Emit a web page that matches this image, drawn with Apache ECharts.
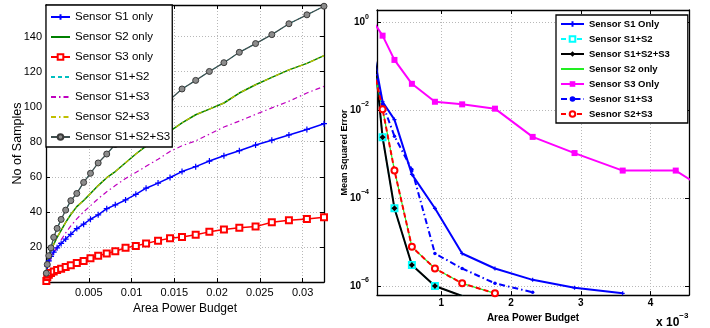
<!DOCTYPE html>
<html>
<head>
<meta charset="utf-8">
<script src="https://cdn.jsdelivr.net/npm/echarts@6/dist/echarts.min.js"></script>
<style>
  html, body { margin: 0; padding: 0; background: #fff; }
  #chart { width: 710px; height: 328px; }
</style>
</head>
<body>
<div id="chart"></div>
<script>
// ---- left panel: number of samples vs area power budget ----
const budgetL = [0.00004, 0.00015, 0.00033, 0.00058, 0.0009, 0.0013, 0.00177, 0.0023, 0.0029, 0.0036,
                 0.0044, 0.0052, 0.0061, 0.0071, 0.0081, 0.0093, 0.0105, 0.0117, 0.0131, 0.0145,
                 0.0159, 0.0175, 0.0191, 0.0208, 0.0226, 0.0245, 0.0264, 0.0284, 0.0305, 0.0325];
const samplesS1 = [4.5, 9, 12, 14.6, 17, 19.5, 22, 24.5, 27.2, 30.5, 33, 35.8, 38.3, 41.8, 44,
                   46.8, 50, 53.5, 56.4, 59.6, 63, 65.8, 69, 72, 74.9, 78.1, 80.9, 83.9, 87, 90.3];
const samplesS2 = [6, 11, 14.5, 18, 21.5, 25.5, 29.5, 34, 38.5, 43, 46.5, 50.5, 55, 59.5, 63,
                   68, 73, 77.5, 82.5, 86, 90.8, 95.4, 98.6, 102.1, 107.8, 112.5, 116.7, 121, 124.7, 129.1];
const samplesS3 = [0.5, 2.9, 4.2, 5.2, 6.0, 6.8, 7.6, 8.5, 9.6, 10.8, 12.0, 13.5, 15.0, 16.3, 17.5,
                   19.5, 20.6, 22.0, 23.6, 25.0, 25.7, 26.9, 28.6, 29.9, 30.9, 31.6, 34.1, 35.2, 36.0, 37.0];
const samplesS1S3 = [4.5, 7.5, 10.5, 13.5, 16.5, 20, 24, 28, 32, 36, 40, 43.5, 47.5, 51.5, 55,
                     59, 62.5, 66, 70, 74.5, 77.7, 80.5, 84.3, 88.4, 91.8, 95.6, 99.3, 103.1, 107.8, 111.6];
const samplesS1S2S3 = [5, 10, 15, 19.5, 25.5, 30.6, 35.7, 41, 46.4, 50.5, 56.8, 62.0, 67.9, 73.0, 78.5,
                       84, 89, 94, 99, 104.1, 110.1, 115.0, 120.1, 125.1, 131.0, 136.0, 141.1, 147.3, 152.4, 157.3];
// these two lie exactly under other curves in the picture
const samplesS1S2 = samplesS1S2S3.slice();
const samplesS2S3 = samplesS2.slice();

// ---- right panel: mean squared error vs area power budget (x 10^-3) ----
const budgetR = [0.04, 0.16, 0.33, 0.58, 0.91, 1.30, 1.77, 2.31, 2.91, 3.60, 4.36, 5.20];
const mseS1 = [0.164, 0.0158, 0.0062, 3.5e-4, 5.9e-5, 5.5e-6, 2.5e-6, 1.38e-6, 9.1e-7, 6.8e-7];
const mseS1S2S3 = [0.209, 0.00245, 5.9e-5, 3.0e-6, 1.0e-6, 5.9e-7];
const mseS1S2 = mseS1S2S3.slice();
const mseS2S3 = [0.076, 0.0107, 4.3e-4, 7.8e-6, 2.5e-6, 1.15e-6, 6.8e-7];
const mseS2 = mseS2S3.slice();
const mseS1S3 = [0.107, 0.0141, 0.0026, 4.5e-4, 5.5e-6, 2.5e-6, 1.15e-6, 7.2e-7];
const mseS3 = [0.98, 0.507, 0.142, 0.0405, 0.0158, 0.0138, 0.011, 0.0025, 0.00107, 4.27e-4, 4.27e-4, 6e-5];

const FONT_L = "'Liberation Sans', Arial, sans-serif";
const FONT_R = "'Liberation Sans', Arial, sans-serif";
const plus = 'path://M0,5L10,5M5,0L5,10';
const gridLine = { show: true, lineStyle: { color: '#b8b8b8', type: [1, 2], width: 1 } };
const noMarker = { opacity: 0 };

function pts(xs, ys) {
  return ys.map((y, i) => [xs[i], y]);
}

function lineL(name, data, color, extra) {
  return Object.assign({
    name: name, type: 'line', xAxisIndex: 0, yAxisIndex: 0, data: data,
    symbol: 'none', showAllSymbol: true,
    lineStyle: { color: color, width: 1.2 },
    itemStyle: { color: color }
  }, extra);
}

function lineR(name, data, color, extra) {
  return Object.assign({
    name: 'R:' + name, type: 'line', xAxisIndex: 2, yAxisIndex: 2, data: data,
    symbol: 'none', showAllSymbol: true,
    lineStyle: { color: color, width: 2 },
    itemStyle: { color: color }
  }, extra);
}

function frameAxis(base, pos) {
  return Object.assign({}, base, {
    position: pos, name: '', axisLabel: { show: false }, splitLine: { show: false }
  });
}

var chart = echarts.init(document.getElementById('chart'));

const xL = {
  type: 'value', gridIndex: 0, min: 0, max: 0.0325, interval: 0.005, position: 'bottom',
  axisLine: { show: true, onZero: false, lineStyle: { color: '#000', width: 1.3 } },
  axisTick: { show: true, inside: true, length: 4, lineStyle: { color: '#000' } },
  axisLabel: {
    color: '#000', fontFamily: FONT_L, fontSize: 11, margin: 5,
    formatter: function (v) {
      let k = v / 0.005;
      if (v <= 0 || Math.abs(k - Math.round(k)) > 1e-6) return '';
      return String(+v.toFixed(3));
    }
  },
  splitLine: gridLine,
  name: 'Area Power Budget', nameLocation: 'middle', nameGap: 16,
  nameTextStyle: { color: '#000', fontFamily: FONT_L, fontSize: 12 }
};
const yL = {
  type: 'value', gridIndex: 0, min: 0, max: 158, interval: 20, position: 'left',
  axisLine: { show: true, onZero: false, lineStyle: { color: '#000', width: 1.3 } },
  axisTick: { show: true, inside: true, length: 4, lineStyle: { color: '#000' } },
  axisLabel: {
    color: '#000', fontFamily: FONT_L, fontSize: 11, margin: 4,
    formatter: function (v) { return (v > 0 && v % 20 === 0) ? String(v) : ''; }
  },
  splitLine: gridLine,
  name: 'No of Samples', nameLocation: 'middle', nameGap: 22, nameMoveOverlap: false,
  nameTextStyle: { color: '#000', fontFamily: FONT_L, fontSize: 12.5 }
};
const xR = {
  type: 'value', gridIndex: 1, min: 0.08, max: 4.55, position: 'bottom',
  axisLine: { show: true, onZero: false, lineStyle: { color: '#000', width: 1.3 } },
  axisTick: { show: true, inside: true, length: 4, lineStyle: { color: '#000' } },
  axisLabel: {
    color: '#000', fontFamily: FONT_R, fontWeight: 'bold', fontSize: 10, margin: 3,
    formatter: function (v) { return Math.abs(v - Math.round(v)) < 1e-6 ? String(Math.round(v)) : ''; }
  },
  splitLine: gridLine,
  name: 'Area Power Budget', nameLocation: 'middle', nameGap: 15,
  nameTextStyle: { color: '#000', fontFamily: FONT_R, fontWeight: 'bold', fontSize: 10 }
};
const yR = {
  type: 'log', logBase: 100, gridIndex: 1, min: 6.2e-7, max: 1.95, position: 'left',
  axisLine: { show: true, onZero: false, lineStyle: { color: '#000', width: 1.3 } },
  axisTick: { show: true, inside: true, length: 4, lineStyle: { color: '#000' } },
  axisLabel: {
    color: '#000', margin: 8,
    formatter: function (v) {
      let e = Math.log10(v);
      if (Math.abs(e - Math.round(e)) > 1e-3) return '';
      e = Math.round(e);
      return '{b|10}{s|' + (e < 0 ? '\u2212' + (-e) : e) + '}';
    },
    rich: {
      b: { fontFamily: FONT_R, fontWeight: 'bold', fontSize: 10, lineHeight: 20 },
      s: { fontFamily: FONT_R, fontWeight: 'bold', fontSize: 7, lineHeight: 8, padding: [0, 0, 12, 0] }
    }
  },
  splitLine: gridLine,
  name: 'Mean Squared Error', nameLocation: 'middle', nameGap: 28, nameMoveOverlap: false,
  nameTextStyle: { color: '#000', fontFamily: FONT_R, fontWeight: 'bold', fontSize: 9 }
};

const option = {
  animation: false,
  backgroundColor: '#fff',
  grid: [
    { left: 46, top: 5, width: 278, height: 277 },
    { left: 377, top: 10, width: 312, height: 286 }
  ],
  xAxis: [xL, frameAxis(xL, 'top'), xR, frameAxis(xR, 'top')],
  yAxis: [yL, frameAxis(yL, 'right'), yR, frameAxis(yR, 'right')],
  legend: [
    {
      orient: 'vertical', left: 46, top: 5, selectedMode: false,
      data: [
        'Sensor S1 only',
        { name: 'Sensor S2 only', itemStyle: noMarker },
        'Sensor S3 only',
        { name: 'Sensor S1+S2', itemStyle: noMarker },
        { name: 'Sensor S1+S3', itemStyle: noMarker },
        { name: 'Sensor S2+S3', itemStyle: noMarker },
        'Sensor S1+S2+S3'
      ],
      backgroundColor: '#fff', borderColor: '#000', borderWidth: 1.3, borderRadius: 0,
      padding: [6, 2, 4, 4], itemGap: 8, itemWidth: 19, itemHeight: 7,
      textStyle: { color: '#000', fontFamily: FONT_L, fontSize: 11.5 }
    },
    {
      orient: 'vertical', left: 556, top: 15, selectedMode: false,
      data: [
        'R:Sensor S1 Only',
        'R:Sensor S1+S2',
        'R:Sensor S1+S2+S3',
        { name: 'R:Sensor S2 only', itemStyle: noMarker },
        'R:Sensor S3 Only',
        'R:Sesnor S1+S3',
        'R:Sesnor S2+S3'
      ],
      formatter: function (n) { return n.slice(2); },
      backgroundColor: '#fff', borderColor: '#000', borderWidth: 1.3, borderRadius: 0,
      padding: [4, 18, 4, 4], itemGap: 5, itemWidth: 23, itemHeight: 7,
      textStyle: { color: '#000', fontFamily: FONT_R, fontWeight: 'bold', fontSize: 9.5 }
    }
  ],
  graphic: [{
    type: 'text', left: 656, top: 312,
    style: {
      text: '{b|x 10}{s|\u22123}',
      rich: {
        b: { fontFamily: FONT_R, fontWeight: 'bold', fontSize: 12, lineHeight: 24, fill: '#000' },
        s: { fontFamily: FONT_R, fontWeight: 'bold', fontSize: 8, lineHeight: 10, padding: [0, 0, 14, 0], fill: '#000' }
      }
    }
  }],
  series: [
    lineL('Sensor S1 only', pts(budgetL, samplesS1), '#0000ff', {
      symbol: plus, symbolSize: 6, lineStyle: { color: '#0000ff', width: 1.5 },
      itemStyle: { color: '#0000ff', borderColor: '#0000ff', borderWidth: 1.2 }
    }),
    lineL('Sensor S2 only', pts(budgetL, samplesS2), '#008000', { lineStyle: { color: '#008000', width: 1.5 } }),
    lineL('Sensor S3 only', pts(budgetL, samplesS3), '#ff0000', {
      symbol: 'emptyRect', symbolSize: 6, lineStyle: { color: '#ff0000', width: 1.5 },
      itemStyle: { color: '#ff0000', borderWidth: 1.2 }
    }),
    lineL('Sensor S1+S2', pts(budgetL, samplesS1S2), '#00bfbf', { lineStyle: { color: '#00bfbf', width: 1, type: [4, 3] } }),
    lineL('Sensor S1+S3', pts(budgetL, samplesS1S3), '#bf00bf', { lineStyle: { color: '#bf00bf', width: 1.2, type: [5, 3, 1.5, 3] } }),
    lineL('Sensor S2+S3', pts(budgetL, samplesS2S3), '#bfbf00', { lineStyle: { color: '#bfbf00', width: 1.2, type: [5, 3, 1.5, 3] } }),
    lineL('Sensor S1+S2+S3', pts(budgetL, samplesS1S2S3), '#3f4f4f', {
      symbol: 'circle', symbolSize: 6, lineStyle: { color: '#3f4f4f', width: 1.3 },
      itemStyle: { color: '#8c8c8c', borderColor: '#3a3a3a', borderWidth: 1 }
    }),

    lineR('Sensor S1 Only', pts(budgetR, mseS1), '#0000ff', {
      symbol: plus, symbolSize: 4, itemStyle: { color: '#0000ff', borderColor: '#0000ff', borderWidth: 1.2 }
    }),
    lineR('Sensor S1+S2', pts(budgetR, mseS1S2), '#00ffff', {
      symbol: 'emptyRect', symbolSize: 6, lineStyle: { color: '#00ffff', width: 1.5, type: [5, 3] },
      itemStyle: { color: '#00ffff', borderWidth: 1.2 }
    }),
    lineR('Sensor S1+S2+S3', pts(budgetR, mseS1S2S3), '#000000', {
      symbol: 'diamond', symbolSize: 6, itemStyle: { color: '#000' }
    }),
    lineR('Sensor S2 only', pts(budgetR, mseS2), '#22ee22', { lineStyle: { color: '#22ee22', width: 1.2 } }),
    lineR('Sensor S3 Only', pts(budgetR, mseS3), '#ff00ff', {
      symbol: 'rect', symbolSize: 6, itemStyle: { color: '#ff00ff' }
    }),
    lineR('Sesnor S1+S3', pts(budgetR, mseS1S3), '#0000ff', {
      symbol: 'circle', symbolSize: 3.5, lineStyle: { color: '#0000ff', width: 2, type: [6, 3, 1.5, 3] },
      itemStyle: { color: '#0000ff' }
    }),
    lineR('Sesnor S2+S3', pts(budgetR, mseS2S3), '#ff0000', {
      symbol: 'emptyCircle', symbolSize: 6, lineStyle: { color: '#ff0000', width: 2, type: [5, 3] },
      itemStyle: { color: '#ff0000', borderWidth: 1.5 }
    })
  ]
};

chart.setOption(option);
</script>
</body>
</html>
